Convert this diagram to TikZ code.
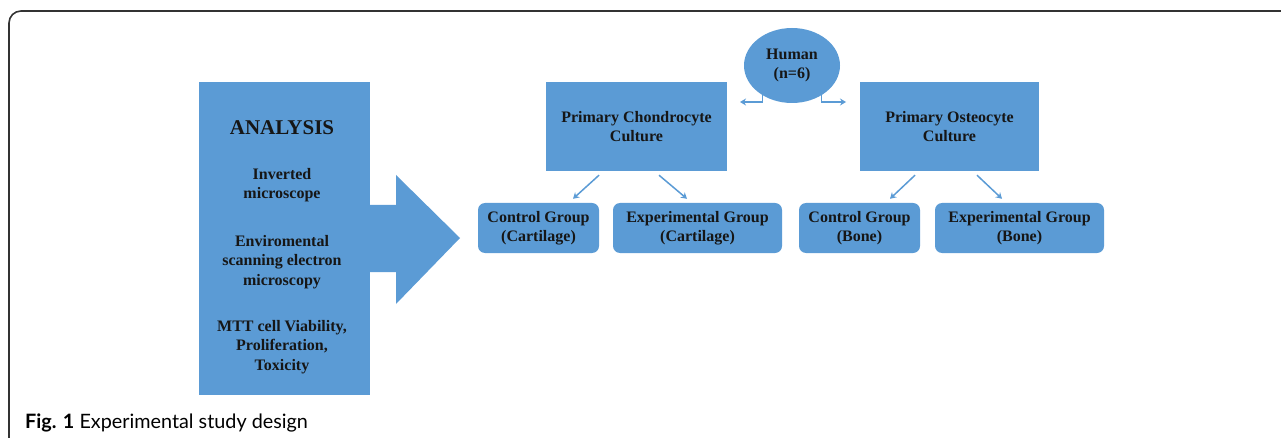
\documentclass[tikz,border=0pt]{standalone}
\usepackage{fontspec}
\setmainfont{Liberation Serif}
\newfontfamily\capfont{Lato}
\usepackage{tikz}
\usetikzlibrary{arrows.meta,positioning,shapes.geometric}
\definecolor{boxblue}{HTML}{5B9BD5}
\definecolor{inkdark}{HTML}{161616}

\begin{document}
\begin{tikzpicture}[
    x=1pt, y=-1pt,
    >=Stealth,
    blk/.style={fill=boxblue, inner sep=0pt, align=center, text=inkdark, font=\bfseries\fontsize{16}{19.5}\selectfont},
    grp/.style={blk, rounded corners=7pt, minimum width=121pt, minimum height=50pt},
    txt/.style={align=center, text=inkdark, font=\bfseries\fontsize{16}{19.5}\selectfont},
    arr/.style={-{Stealth[length=6pt,width=7pt]}, draw=boxblue, line width=1.5pt},
    frame/.style={draw=black!80, line width=1.6pt, rounded corners=12pt}
]
\useasboundingbox (0,0) rectangle (1281,438);
\draw[frame] (9,445) -- (9,11) -- (1290,11);

% analysis block and big arrow
\fill[boxblue] (369,205) -- (396,205) -- (396,175) -- (460,238) -- (396,304) -- (396,272) -- (369,272) -- cycle;
\node[blk, minimum width=171pt, minimum height=312pt] (ana) at (284.5,238.5) {};
\node[txt, font=\bfseries\fontsize{21}{24}\selectfont] (t0) at (282,128) {ANALYSIS};
\node[txt] (t1) at (282,185) {Inverted\\microscope};
\node[txt] (t2) at (282,262) {Enviromental\\scanning electron\\microscopy};
\node[txt] (t3) at (282,347) {MTT cell Viability,\\Proliferation,\\Toxicity};

% cultures
\node[blk, ellipse, minimum width=96pt, minimum height=75pt] (hum) at (792,65.5) {Human\\(n=6)};
\node[blk, minimum width=181pt, minimum height=89pt] (chon) at (636.5,126.5) {Primary Chondrocyte\\Culture};
\node[blk, minimum width=179pt, minimum height=89pt] (oste) at (949.5,126.5) {Primary Osteocyte\\Culture};
\coordinate (hl) at (740,102);
\coordinate (hr) at (846,102);
\draw[arr] (hum.225) |- (hl);
\draw[arr] (hum.315) |- (hr);

% groups
\node[grp] (cc) at (538.5,228) {Control Group\\(Cartilage)};
\node[grp, minimum width=169pt] (ec) at (697.5,228) {Experimental Group\\(Cartilage)};
\node[grp] (cb) at (859.5,228) {Control Group\\(Bone)};
\node[grp, minimum width=169pt] (eb) at (1019.5,228) {Experimental Group\\(Bone)};

\draw[arr] ([shift={(-37.5,4)}]chon.south) -- ([shift={(34.5,-4)}]cc.north);
\draw[arr] ([shift={(22.5,4)}]chon.south) -- ([shift={(-10.5,-4)}]ec.north);
\draw[arr] ([shift={(-34.5,4)}]oste.south) -- ([shift={(30.5,-4)}]cb.north);
\draw[arr] ([shift={(27.5,4)}]oste.south) -- ([shift={(-17.5,-4)}]eb.north);

\node[anchor=west, inner sep=0pt, font=\capfont\fontsize{19.8}{22}\selectfont] (cap) at (25,423) {\textbf{Fig. 1} Experimental study design};
\end{tikzpicture}
\end{document}
